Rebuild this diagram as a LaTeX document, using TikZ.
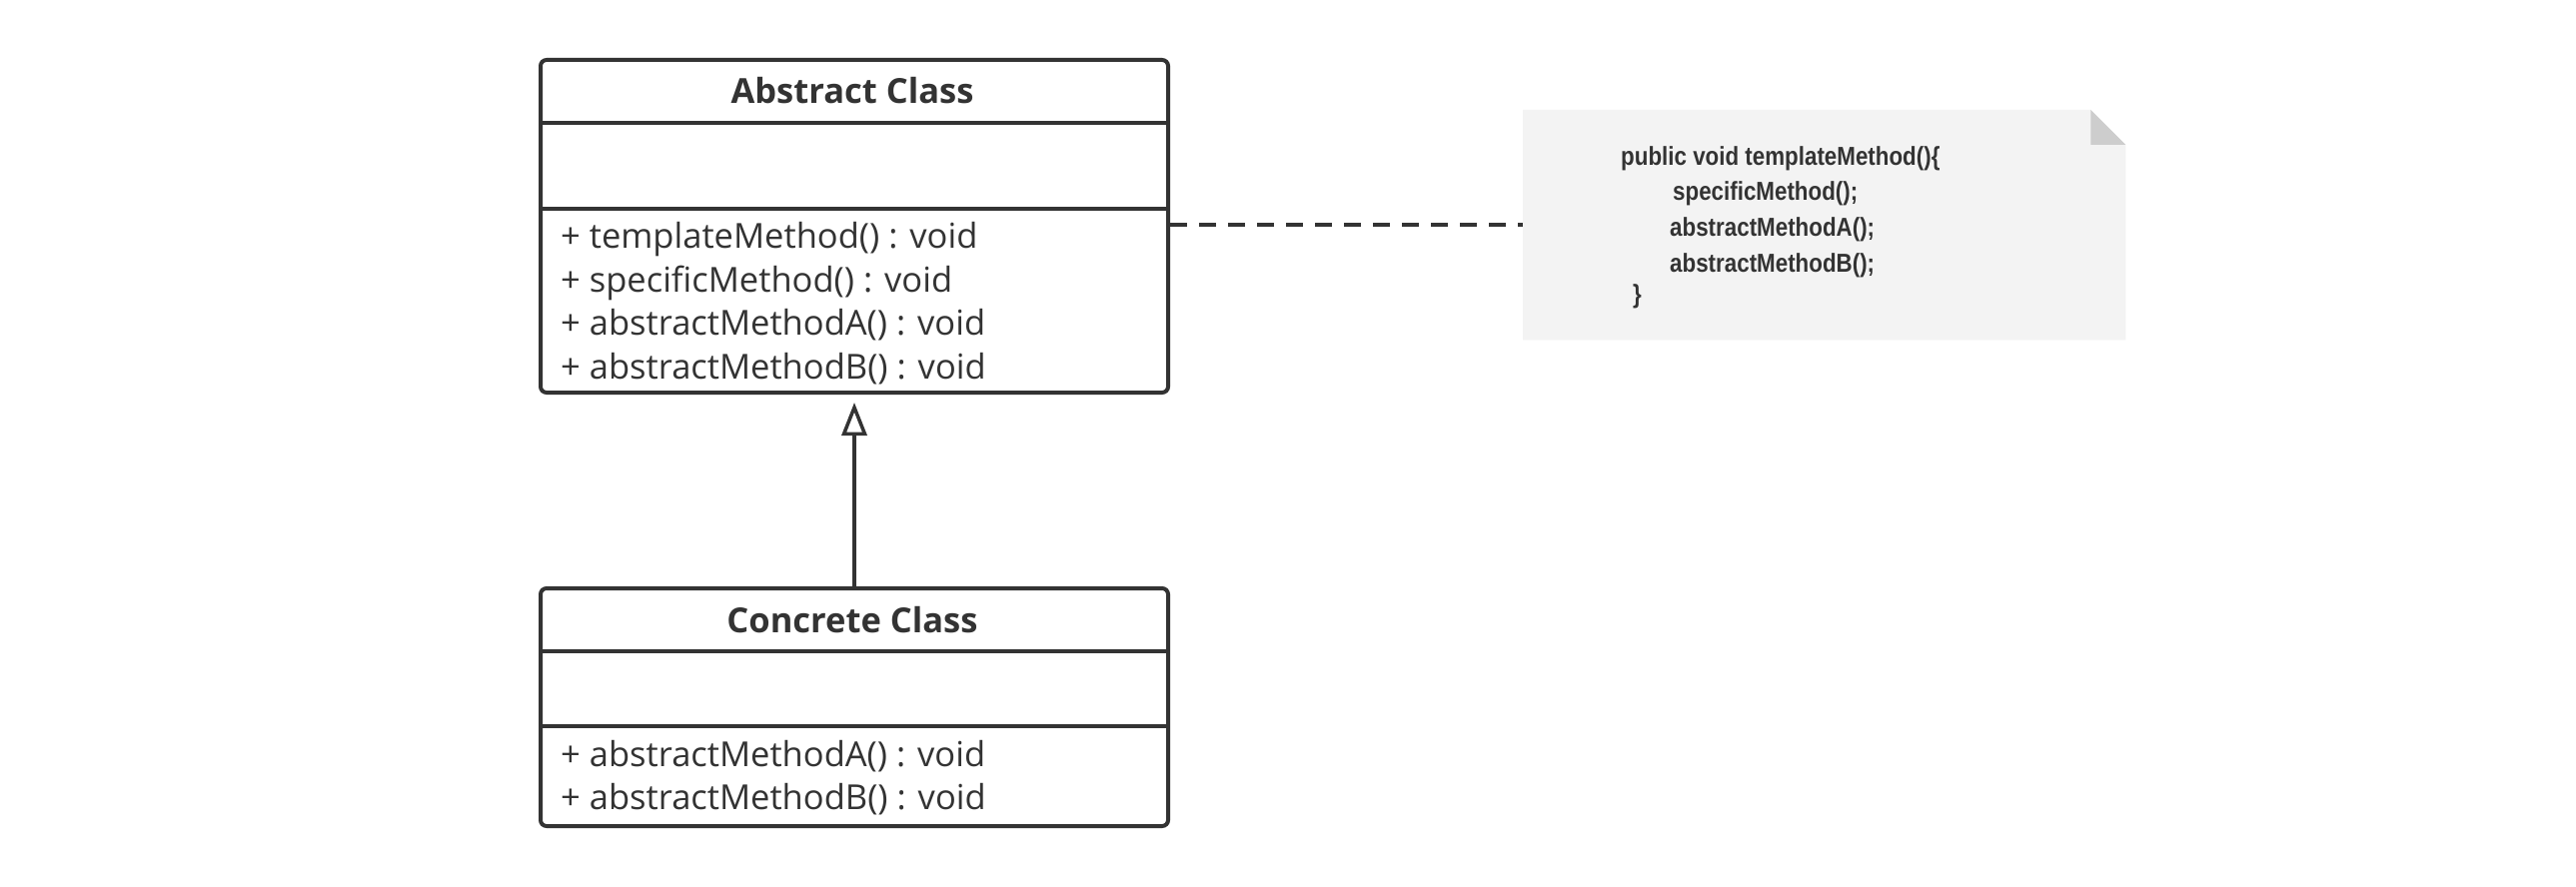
\documentclass[tikz,border=0pt]{standalone}
\usepackage{fontspec}
\setmainfont{Open Sans}
\newfontfamily\notefont[FakeStretch=0.86]{Liberation Sans}
\usetikzlibrary{arrows.meta,calc}
\definecolor{ink}{HTML}{333333}
\definecolor{notefill}{HTML}{F3F3F3}
\definecolor{foldcol}{HTML}{CDCDCD}
\begin{document}
\begin{tikzpicture}[x=1pt,y=-1pt,
  classbox/.style={draw=ink, line width=4pt, rounded corners=6pt,
    minimum width=628pt, inner sep=0pt, anchor=north west},
  divider/.style={draw=ink, line width=4pt},
  titletext/.style={text=ink, anchor=base, inner sep=0pt,
    font=\fontsize{34.5}{40}\selectfont\bfseries},
  methtext/.style={text=ink, anchor=base west, inner sep=0pt,
    font=\fontsize{34.5}{40}\selectfont},
  notebox/.style={minimum width=603pt, minimum height=230pt, inner sep=0pt,
    anchor=north west, draw=none},
  notetext/.style={text=ink, anchor=base west, inner sep=0pt,
    font=\notefont\fontsize{26}{30}\selectfont\bfseries},
  generalization/.style={draw=ink, line width=4pt,
    -{Triangle[open, length=33pt, width=25pt, line width=3.5pt]}, shorten >=8pt},
  noteline/.style={draw=ink, line width=4.2pt, dash pattern=on 17pt off 12pt}
]
\useasboundingbox[fill=white] (0,0) rectangle (2578,888);

% Abstract class
\node[classbox, minimum height=333pt] (abs) at (539,58) {};
\draw[divider] (abs.west |- 0,123) -- (abs.east |- 0,123);
\draw[divider] (abs.west |- 0,209) -- (abs.east |- 0,209);
\node[titletext] (absT) at (853,104) {Abstract Class};
\node[methtext] (a1) at (561,248) {+ templateMethod() : void};
\node[methtext] (a2) at (561,292) {+ specificMethod() : void};
\node[methtext] (a3) at (561,335) {+ abstractMethodA() : void};
\node[methtext] (a4) at (561,379) {+ abstractMethodB() : void};

% Concrete class
\node[classbox, minimum height=238pt] (conc) at (539,587) {};
\draw[divider] (conc.west |- 0,652) -- (conc.east |- 0,652);
\draw[divider] (conc.west |- 0,727) -- (conc.east |- 0,727);
\node[titletext] (concT) at (853,633) {Concrete Class};
\node[methtext] (c1) at (561,767) {+ abstractMethodA() : void};
\node[methtext] (c2) at (561,810) {+ abstractMethodB() : void};

% Generalization
\draw[generalization] (conc.north) -- (abs.south);

% Note
\node[notebox] (note) at (1524,110) {};
\fill[notefill] (note.north west) -- ($(note.north east)+(-35,0)$)
  -- ($(note.north east)+(0,35)$) -- (note.south east) -- (note.south west) -- cycle;
\fill[foldcol] ($(note.north east)+(-35,0)$) -- ($(note.north east)+(-35,35)$)
  -- ($(note.north east)+(0,35)$) -- cycle;
\node[notetext] (n1) at (1622,165) {public void templateMethod()\{};
\node[notetext] (n2) at (1674,200) {specificMethod();};
\node[notetext] (n3) at (1671,236) {abstractMethodA();};
\node[notetext] (n4) at (1671,272) {abstractMethodB();};
\node[notetext] (n5) at (1634,303) {\}};

\draw[noteline] (note.west -| abs.east) -- (note.west);
\end{tikzpicture}
\end{document}
